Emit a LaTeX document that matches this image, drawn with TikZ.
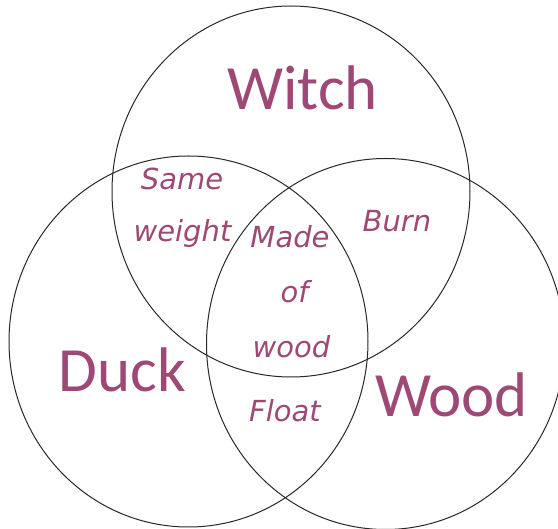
\documentclass[tikz,border=0pt]{standalone}
\usepackage{fontspec}
\newfontfamily\bigfont{Carlito}
\newfontfamily\smallfont{DejaVu Sans}
\definecolor{vtext}{RGB}{158,72,118}
\definecolor{vline}{RGB}{40,40,40}
\tikzset{
  ring/.style={draw=vline, line width=1pt},
  biglabel/.style={anchor=base, inner sep=0pt, text=vtext, font=\bigfont\fontsize{63}{63}\selectfont},
  smalllabel/.style={anchor=base, inner sep=0pt, text=vtext, font=\smallfont\itshape\fontsize{29}{29}\selectfont},
}
\begin{document}
\begin{tikzpicture}[x=1pt,y=-1pt]
\useasboundingbox (0,0) rectangle (558,529);
\fill[white] (0,0) rectangle (558,529);
% circles
\draw[ring] (291,191.5) ellipse [x radius=179pt, y radius=185.5pt];
\draw[ring] (188.5,341.5) ellipse [x radius=179.5pt, y radius=185.5pt];
\draw[ring] (385.5,344) ellipse [x radius=179pt, y radius=185.5pt];
% big labels
\node[biglabel] (witch) at (302.5,110) {Witch};
\node[biglabel] (duck) at (122.5,392) {Duck};
\node[biglabel] (wood) at (451.5,417) {Wood};
% small labels
\node[smalllabel] (same1) at (182,190) {Same};
\node[smalllabel] (same2) at (182.5,242) {weight};
\node[smalllabel] (made1) at (290,248) {Made};
\node[smalllabel] (made2) at (294.5,303) {of};
\node[smalllabel] (made3) at (291.5,358) {wood};
\node[smalllabel] (burn) at (397,232) {Burn};
\node[smalllabel] (float) at (285,422) {Float};
\end{tikzpicture}
\end{document}
